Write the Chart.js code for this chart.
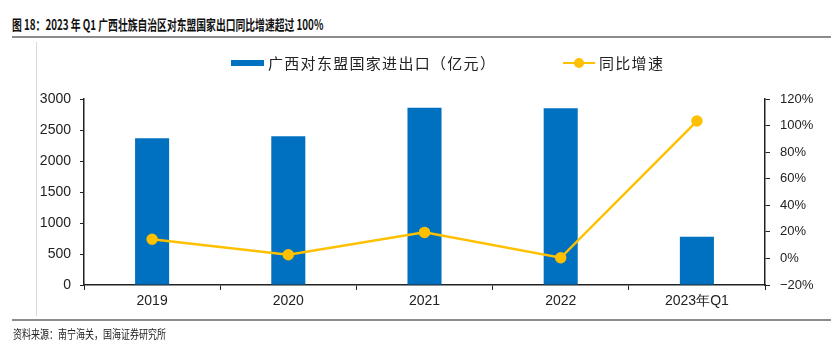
<!DOCTYPE html>
<html>
<head>
<meta charset="utf-8">
<script src="https://cdn.jsdelivr.net/npm/chart.js@4.4.0/dist/chart.umd.min.js"></script>
<style>
  html, body { margin: 0; padding: 0; background: #fff; }
  #wrap { position: relative; width: 831px; height: 347px; overflow: hidden; }
  #exportChart { position: absolute; left: 0; top: 0; }
  .title {
    position: absolute; left: 12px; top: 14px; font: bold 14px "Noto Sans CJK SC";
    color: #111; white-space: nowrap; transform: scaleX(0.7); transform-origin: left center;
  }
  .source {
    position: absolute; left: 13px; top: 325px; font: 12px "Noto Sans CJK SC";
    color: #222; white-space: nowrap; transform: scaleX(0.75); transform-origin: left center;
  }
  .rule { position: absolute; left: 12px; right: 0; height: 2px; background: #8c8c8c; }
  .side { position: absolute; left: 36px; top: 42px; width: 1px; height: 274px; background: #d9d9d9; }
  .legend { position: absolute; top: 50px; font: 15px "Noto Sans CJK SC"; color: #222; white-space: nowrap; letter-spacing: 1.3px; }
  .legend span { display: inline-block; vertical-align: middle; }
</style>
</head>
<body>
<div id="wrap">
  <div class="title">图 18：2023 年 Q1 广西壮族自治区对东盟国家出口同比增速超过 100%</div>
  <div class="rule" style="top:36px"></div>
  <div class="side"></div>
  <canvas id="exportChart" width="831" height="347"></canvas>
  <div class="legend" style="left:231px">
    <span style="width:33px;height:6px;background:#0070C0;margin-right:4px"></span><span>广西对东盟国家进出口（亿元）</span>
  </div>
  <div class="legend" style="left:563px">
    <span style="position:relative;width:32px;height:10px;margin-right:4px">
      <span style="position:absolute;left:0;top:4px;width:32px;height:2.5px;background:#FFC000"></span>
      <span style="position:absolute;left:11px;top:0;width:10px;height:10px;border-radius:50%;background:#FFC000"></span>
    </span><span>同比增速</span>
  </div>
  <div class="rule" style="top:319px"></div>
  <div class="source">资料来源：南宁海关，国海证券研究所</div>
</div>
<script>
// 年份与数据
var years = ['2019', '2020', '2021', '2022', '2023年Q1'];
var tradeValue = [2365, 2400, 2860, 2850, 780];   // 亿元
var yoyGrowth = [14.4, 2.8, 19.6, 0.5, 103.4];    // %

var axisColor = '#222';
var tickFont = { family: 'Liberation Sans', size: 14 };

new Chart(document.getElementById('exportChart').getContext('2d'), {
    type: 'bar',
    data: {
        labels: years,
        datasets: [{
            type: 'line',
            label: '同比增速',
            data: yoyGrowth,
            yAxisID: 'y1',
            borderColor: '#FFC000',
            backgroundColor: '#FFC000',
            borderWidth: 2.5,
            pointRadius: 4.5,
            pointHoverRadius: 4.5,
            tension: 0,
            order: 0
        }, {
            label: '广西对东盟国家进出口（亿元）',
            data: tradeValue,
            yAxisID: 'y',
            backgroundColor: '#0070C0',
            categoryPercentage: 1,
            barPercentage: 0.25,
            order: 1
        }]
    },
    options: {
        responsive: false,
        animation: false,
        layout: { padding: { top: 99, left: 0, right: 0, bottom: 0 } },
        plugins: { legend: { display: false }, tooltip: { enabled: false } },
        scales: {
            x: {
                offset: true,
                grid: { offset: true, drawOnChartArea: false, drawTicks: true, tickLength: 5, color: axisColor },
                border: { color: axisColor, width: 1.5 },
                ticks: { color: '#222', font: tickFont, padding: 3 },
                afterFit: function (scale) { scale.height = 62; }
            },
            y: {
                position: 'left',
                min: 0, max: 3000,
                ticks: {
                    stepSize: 500, color: '#222', font: tickFont, padding: 9,
                    callback: function (v) { return String(v); }
                },
                grid: { drawOnChartArea: false, drawTicks: true, tickLength: 4, color: axisColor },
                border: { color: axisColor, width: 1.5 },
                afterFit: function (scale) { scale.width = 84; }
            },
            y1: {
                position: 'right',
                min: -20, max: 120,
                ticks: {
                    stepSize: 20, color: '#222', font: { family: 'Liberation Sans', size: 13 }, padding: 10,
                    callback: function (v) { return (v < 0 ? '\u2212' + (-v) : v) + '%'; }
                },
                grid: { drawOnChartArea: false, drawTicks: true, tickLength: 5, color: axisColor },
                border: { color: axisColor, width: 1.5 },
                afterFit: function (scale) { scale.width = 66; }
            }
        }
    }
});
</script>
</body>
</html>
